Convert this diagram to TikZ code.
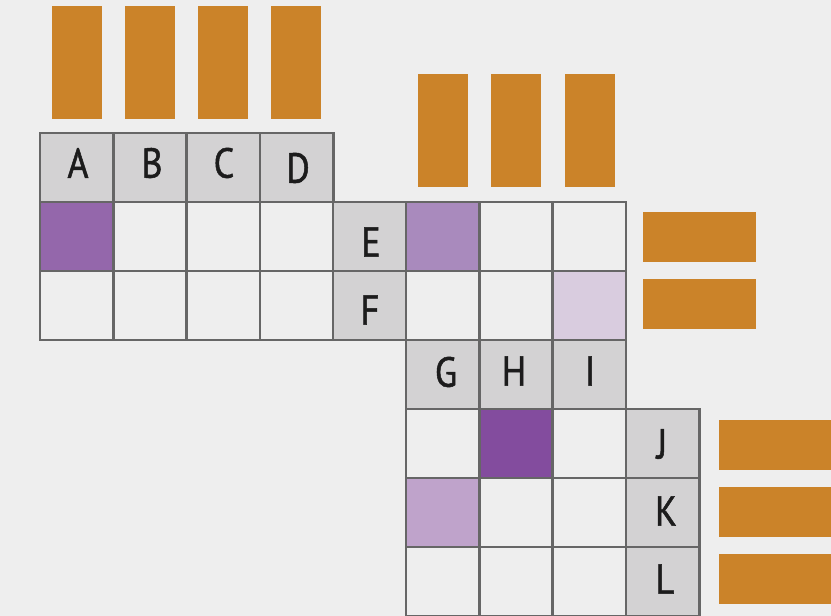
\documentclass[tikz,border=0pt]{standalone}
\usepackage{fontspec}
\setmainfont{PT Sans}[FakeStretch=0.86,FakeBold=1.2]
\begin{document}
\begin{tikzpicture}[x=1pt,y=-1pt,
  cell/.style={draw=gridc,line width=2.8pt,fill=bgc,minimum width=73.3pt,minimum height=69pt,inner sep=0pt,outer sep=0pt,anchor=north west},
  head/.style={cell,fill=headc},
  lbl/.style={inner sep=0pt,outer sep=0pt,text=txtc,font=\fontsize{42}{42}\selectfont},
  bar/.style={fill=orangec,draw=none,inner sep=0pt,outer sep=0pt,anchor=north west}]
\definecolor{bgc}{HTML}{EEEEEE}
\definecolor{orangec}{HTML}{CB8329}
\definecolor{headc}{HTML}{D3D2D3}
\definecolor{gridc}{HTML}{666666}
\definecolor{txtc}{HTML}{1C1C1C}
\definecolor{pa}{HTML}{9467AB}
\definecolor{pb}{HTML}{A98ABD}
\definecolor{pc}{HTML}{D9CCDF}
\definecolor{pd}{HTML}{834C9E}
\definecolor{pe}{HTML}{BFA3CB}
\fill[bgc] (0,0) rectangle (831,616);
\useasboundingbox (0,0) rectangle (831,616);
% orange bars
\node[bar,minimum width=50pt,minimum height=113pt] (t1) at (52,6) {};
\node[bar,minimum width=50pt,minimum height=113pt] (t2) at (125,6) {};
\node[bar,minimum width=50pt,minimum height=113pt] (t3) at (198,6) {};
\node[bar,minimum width=50pt,minimum height=113pt] (t4) at (271,6) {};
\node[bar,minimum width=50pt,minimum height=113pt] (m1) at (418,74) {};
\node[bar,minimum width=50pt,minimum height=113pt] (m2) at (491,74) {};
\node[bar,minimum width=50pt,minimum height=113pt] (m3) at (565,74) {};
\node[bar,minimum width=113pt,minimum height=50pt] (r1) at (643,212) {};
\node[bar,minimum width=113pt,minimum height=50pt] (r2) at (643,279) {};
\node[bar,minimum width=113pt,minimum height=50pt] (b1) at (719,420) {};
\node[bar,minimum width=113pt,minimum height=50pt] (b2) at (719,487) {};
\node[bar,minimum width=113pt,minimum height=50pt] (b3) at (719,554) {};
% grid 1
\node[head] (hA) at (40,133) {};
\node[head] (hB) at (113.3,133) {};
\node[head] (hC) at (186.6,133) {};
\node[head] (hD) at (260,133) {};
\node[cell,fill=pa] (g11) at (40,202) {};
\node[cell] (g12) at (113.3,202) {};
\node[cell] (g13) at (186.6,202) {};
\node[cell] (g14) at (260,202) {};
\node[cell] (g21) at (40,271) {};
\node[cell] (g22) at (113.3,271) {};
\node[cell] (g23) at (186.6,271) {};
\node[cell] (g24) at (260,271) {};
\node[head] (hE) at (333,202) {};
\node[head] (hF) at (333,271) {};
% grid 2
\node[cell,fill=pb] (k11) at (406,202) {};
\node[cell] (k12) at (479.3,202) {};
\node[cell] (k13) at (552.6,202) {};
\node[cell] (k21) at (406,271) {};
\node[cell] (k22) at (479.3,271) {};
\node[cell,fill=pc] (k23) at (552.6,271) {};
\node[head] (hG) at (406,340) {};
\node[head] (hH) at (479.3,340) {};
\node[head] (hI) at (552.6,340) {};
% grid 3
\node[cell] (n11) at (406,409) {};
\node[cell,fill=pd] (n12) at (479.3,409) {};
\node[cell] (n13) at (552.6,409) {};
\node[cell,fill=pe] (n21) at (406,478) {};
\node[cell] (n22) at (479.3,478) {};
\node[cell] (n23) at (552.6,478) {};
\node[cell] (n31) at (406,547) {};
\node[cell] (n32) at (479.3,547) {};
\node[cell] (n33) at (552.6,547) {};
\node[head] (hJ) at (626,409) {};
\node[head] (hK) at (626,478) {};
\node[head] (hL) at (626,547) {};
% labels
\node[lbl] (lA) at (78,163) {A};
\node[lbl] (lB) at (152,163) {B};
\node[lbl] (lC) at (224,163) {C};
\node[lbl] (lD) at (298,168) {D};
\node[lbl] (lE) at (371,242) {E};
\node[lbl] (lF) at (370,310) {F};
\node[lbl] (lG) at (446,372) {G};
\node[lbl] (lH) at (514,371) {H};
\node[lbl] (lI) at (590,371) {I};
\node[lbl] (lJ) at (662,444) {J};
\node[lbl] (lK) at (666,511) {K};
\node[lbl] (lL) at (665,579) {L};
\end{tikzpicture}
\end{document}
